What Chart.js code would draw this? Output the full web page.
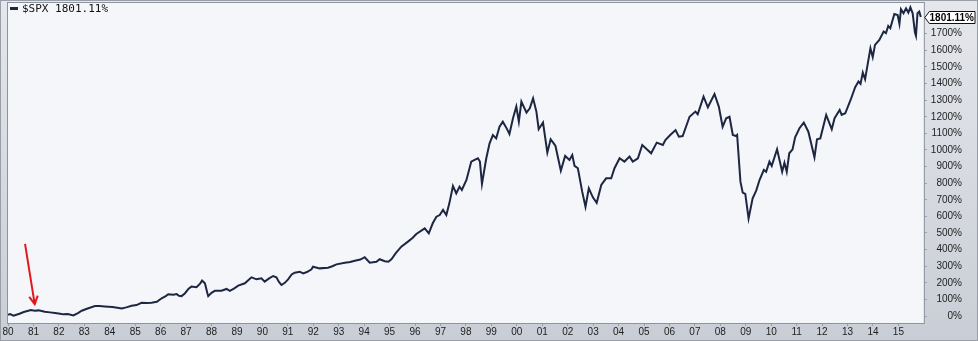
<!DOCTYPE html>
<html>
<head>
<meta charset="utf-8">
<script src="https://cdn.jsdelivr.net/npm/chart.js@4/dist/chart.umd.min.js"></script>
<style>
  html, body { margin: 0; padding: 0; background: #d8dbe2; }
  #wrap { width: 978px; height: 341px; }
</style>
</head>
<body>
<div id="wrap"><canvas id="spx" width="978" height="341"></canvas></div>
<script>
// $SPX, % change since start of 1980
const dates = [
  1980.00, 1980.08, 1980.22, 1980.45, 1980.62, 1980.90, 1981.05, 1981.20, 1981.45, 1981.65,
  1981.85, 1982.05, 1982.17, 1982.35, 1982.57, 1982.75, 1982.90, 1983.10, 1983.42, 1983.60,
  1983.80, 1984.10, 1984.30, 1984.47, 1984.65, 1984.86, 1985.05, 1985.25, 1985.45, 1985.64,
  1985.85, 1986.04, 1986.20, 1986.30, 1986.50, 1986.63, 1986.72, 1986.82, 1986.95, 1987.10,
  1987.21, 1987.41, 1987.55, 1987.63, 1987.74, 1987.84, 1987.87, 1988.00, 1988.13, 1988.39,
  1988.59, 1988.72, 1988.88, 1989.05, 1989.31, 1989.57, 1989.77, 1989.96, 1990.09, 1990.25,
  1990.42, 1990.55, 1990.65, 1990.75, 1990.88, 1991.01, 1991.15, 1991.27, 1991.47, 1991.60,
  1991.75, 1991.93, 1991.99, 1992.25, 1992.58, 1992.75, 1992.91, 1993.24, 1993.45, 1993.63,
  1993.85, 1994.02, 1994.22, 1994.48, 1994.61, 1994.81, 1994.95, 1995.07, 1995.25, 1995.46,
  1995.72, 1995.90, 1996.05, 1996.38, 1996.54, 1996.70, 1996.84, 1996.97, 1997.10, 1997.23,
  1997.35, 1997.49, 1997.62, 1997.75, 1997.84, 1998.02, 1998.21, 1998.34, 1998.47, 1998.55,
  1998.63, 1998.80, 1998.93, 1999.06, 1999.19, 1999.32, 1999.45, 1999.60, 1999.71, 1999.85,
  1999.98, 2000.08, 2000.18, 2000.38, 2000.51, 2000.64, 2000.77, 2000.86, 2001.03, 2001.20,
  2001.33, 2001.45, 2001.52, 2001.73, 2001.90, 2002.07, 2002.18, 2002.27, 2002.40, 2002.57,
  2002.70, 2002.83, 2002.99, 2003.14, 2003.32, 2003.51, 2003.71, 2003.84, 2004.04, 2004.23,
  2004.43, 2004.56, 2004.76, 2004.93, 2005.11, 2005.28, 2005.50, 2005.74, 2005.84, 2006.03,
  2006.24, 2006.37, 2006.52, 2006.79, 2007.02, 2007.11, 2007.34, 2007.51, 2007.77, 2007.94,
  2008.09, 2008.23, 2008.36, 2008.49, 2008.62, 2008.66, 2008.79, 2008.88, 2008.98, 2009.11,
  2009.27, 2009.41, 2009.54, 2009.71, 2009.80, 2009.93, 2010.02, 2010.23, 2010.43, 2010.52,
  2010.61, 2010.71, 2010.84, 2010.94, 2011.11, 2011.28, 2011.46, 2011.70, 2011.80, 2011.93,
  2012.16, 2012.38, 2012.49, 2012.69, 2012.77, 2012.91, 2013.12, 2013.30, 2013.43, 2013.51,
  2013.60, 2013.69, 2013.90, 2013.99, 2014.08, 2014.25, 2014.42, 2014.51, 2014.60, 2014.68,
  2014.84, 2014.97, 2015.04, 2015.10, 2015.20, 2015.30, 2015.39, 2015.47, 2015.56, 2015.65,
  2015.69, 2015.75, 2015.82, 2015.88
];
const spxPct = [
  8, 12, 2, 14, 24, 36, 32, 34, 26, 22,
  18, 14, 10, 12, 4, 18, 32, 44, 60, 60,
  58, 54, 50, 46, 52, 62, 66, 80, 78, 80,
  86, 107, 120, 131, 128, 132, 122, 120, 136, 165,
  177, 173, 195, 213, 197, 135, 120, 140, 152, 152,
  163, 152, 165, 183, 197, 233, 221, 227, 207, 225,
  241, 233, 205, 187, 200, 221, 250, 261, 267, 257,
  265, 281, 297, 287, 291, 300, 311, 321, 325, 333,
  340, 354, 321, 327, 342, 330, 327, 342, 380, 418,
  448, 470, 494, 528, 498, 560, 598, 608, 639, 608,
  680, 783, 739, 779, 759, 819, 930, 940, 950, 930,
  795, 950, 1040, 1090, 1070, 1140, 1170, 1130, 1096, 1191,
  1261, 1170, 1291, 1225, 1251, 1311, 1231, 1125, 1165, 984,
  1064, 1040, 1024, 875, 964, 940, 970, 904, 890, 749,
  658, 769, 715, 682, 789, 829, 829, 890, 950, 930,
  960, 930, 950, 1030, 1004, 980, 1044, 1030, 1060, 1090,
  1120, 1080, 1084, 1200, 1231, 1215, 1321, 1257, 1337, 1261,
  1140, 1191, 1200, 1090, 1084, 1090, 809, 743, 735, 588,
  709, 755, 819, 880, 869, 930, 904, 1004, 869, 923,
  869, 980, 1004, 1076, 1131, 1165, 1110, 956, 1064, 1070,
  1211, 1125, 1191, 1241, 1211, 1221, 1301, 1378, 1412, 1398,
  1466, 1426, 1613, 1559, 1633, 1663, 1713, 1703, 1747, 1733,
  1819, 1813, 1759, 1847, 1823, 1853, 1827, 1859, 1823, 1707,
  1687, 1823, 1833, 1801.11
];

const yearLabels = [
  "80", "81", "82", "83", "84", "85", "86", "87", "88", "89",
  "90", "91", "92", "93", "94", "95", "96", "97", "98", "99",
  "00", "01", "02", "03", "04", "05", "06", "07", "08", "09",
  "10", "11", "12", "13", "14", "15"
];
const firstYear = 1980;
const pctTicks = [0, 100, 200, 300, 400, 500, 600, 700, 800, 900,
  1000, 1100, 1200, 1300, 1400, 1500, 1600, 1700];

// red arrow: [year, pct] tail and head
const arrowFrom = [1980.67, 435];
const arrowTo = [1981.05, 72];

const lastPct = spxPct[spxPct.length - 1];
const lastLabel = lastPct.toFixed(2) + "%";
const seriesName = "$SPX " + lastLabel;

const LINE = "#1d2742";
const FONT = "'Liberation Sans', Arial, sans-serif";

const bgPlugin = {
  id: "bg",
  beforeDraw(chart) {
    const { ctx, width, height, chartArea: a } = chart;
    ctx.save();
    const g = ctx.createLinearGradient(0, 0, 0, height);
    g.addColorStop(0, "#e5e7ec");
    g.addColorStop(1, "#c9cdd5");
    ctx.fillStyle = g;
    ctx.fillRect(0, 0, width, height);
    ctx.fillStyle = "#f5f6fa";
    ctx.fillRect(a.left, a.top, a.right - a.left, a.bottom - a.top);
    ctx.restore();
  },
  afterDraw(chart) {
    const { ctx, width, height, chartArea: a, scales } = chart;
    ctx.save();
    // frames
    ctx.strokeStyle = "#8e949f";
    ctx.lineWidth = 1;
    ctx.strokeRect(a.left - 0.5, a.top - 0.5, a.right - a.left + 1, a.bottom - a.top + 1);
    ctx.strokeStyle = "#9a9ea7";
    ctx.strokeRect(0.5, 0.5, width - 1, height - 1);

    // legend in the top-left corner of the plot
    const ly = a.top + 5.5;
    ctx.strokeStyle = LINE;
    ctx.lineWidth = 3;
    ctx.beginPath();
    ctx.moveTo(a.left + 2, ly);
    ctx.lineTo(a.left + 10, ly);
    ctx.stroke();
    ctx.fillStyle = "#111";
    ctx.font = "11px 'DejaVu Sans Mono', monospace";
    ctx.textAlign = "left";
    ctx.textBaseline = "middle";
    ctx.fillText(seriesName, a.left + 14, ly + 0.5);

    // red arrow
    const x0 = scales.x.getPixelForValue(arrowFrom[0]);
    const y0 = scales.y.getPixelForValue(arrowFrom[1]);
    const x1 = scales.x.getPixelForValue(arrowTo[0]);
    const y1 = scales.y.getPixelForValue(arrowTo[1]);
    const ang = Math.atan2(y1 - y0, x1 - x0);
    ctx.strokeStyle = "#e3171c";
    ctx.lineWidth = 2;
    ctx.beginPath();
    ctx.moveTo(x0, y0);
    ctx.lineTo(x1, y1);
    ctx.moveTo(x1 - 9 * Math.cos(ang - 0.5), y1 - 9 * Math.sin(ang - 0.5));
    ctx.lineTo(x1, y1);
    ctx.lineTo(x1 - 9 * Math.cos(ang + 0.5), y1 - 9 * Math.sin(ang + 0.5));
    ctx.stroke();

    // last value tag on the right axis
    const ty = Math.round(scales.y.getPixelForValue(lastPct)) + 0.5;
    const bx = a.right + 5.5;
    const bw = width - 3 - bx;
    const bh = 12;
    ctx.fillStyle = "#ffffff";
    ctx.strokeStyle = "#111111";
    ctx.lineWidth = 1;
    ctx.beginPath();
    ctx.moveTo(a.right + 1, ty);
    ctx.lineTo(bx, ty - bh / 2);
    ctx.lineTo(bx + bw, ty - bh / 2);
    ctx.lineTo(bx + bw, ty + bh / 2);
    ctx.lineTo(bx, ty + bh / 2);
    ctx.closePath();
    ctx.fill();
    ctx.stroke();
    ctx.fillStyle = "#000000";
    ctx.font = "bold 10px " + FONT;
    ctx.textAlign = "right";
    ctx.fillText(lastLabel, bx + bw - 1, ty + 0.5);
    ctx.restore();
  }
};

new Chart(document.getElementById("spx"), {
  type: "line",
  data: {
    datasets: [
      {
        label: seriesName,
        data: dates.map((d, i) => ({ x: d, y: spxPct[i] })),
        borderColor: LINE,
        backgroundColor: LINE,
        borderWidth: 2,
        pointRadius: 0,
        tension: 0,
      },
    ],
  },
  options: {
    responsive: false,
    animation: false,
    layout: { padding: { left: 8, top: 3, right: 16, bottom: 3 } },
    plugins: {
      legend: { display: false },
      tooltip: { enabled: false },
    },
    scales: {
      x: {
        type: "linear",
        min: firstYear,
        max: 2016,
        afterBuildTicks: (scale) => {
          scale.ticks = yearLabels.map((_, i) => ({ value: firstYear + i }));
        },
        grid: { drawOnChartArea: false, tickLength: 3, color: "#9aa0aa" },
        border: { display: false },
        ticks: {
          autoSkip: false,
          maxRotation: 0,
          padding: 0,
          color: "#222",
          font: { family: FONT, size: 10 },
          callback: (v) => yearLabels[Math.round(v) - firstYear],
        },
      },
      y: {
        position: "right",
        min: -42,
        max: 1885,
        afterBuildTicks: (scale) => {
          scale.ticks = pctTicks.map((v) => ({ value: v }));
        },
        afterFit: (scale) => {
          // top tick is not at the edge, so no room is needed for it
          scale.paddingTop = 0;
          scale.paddingBottom = 0;
        },
        grid: { drawOnChartArea: false, tickLength: 3, color: "#9aa0aa" },
        border: { display: false },
        ticks: {
          crossAlign: "far",
          padding: 2,
          color: "#222",
          font: { family: FONT, size: 10 },
          callback: (v) => v + "%",
        },
      },
    },
  },
  plugins: [bgPlugin],
});
</script>
</body>
</html>
